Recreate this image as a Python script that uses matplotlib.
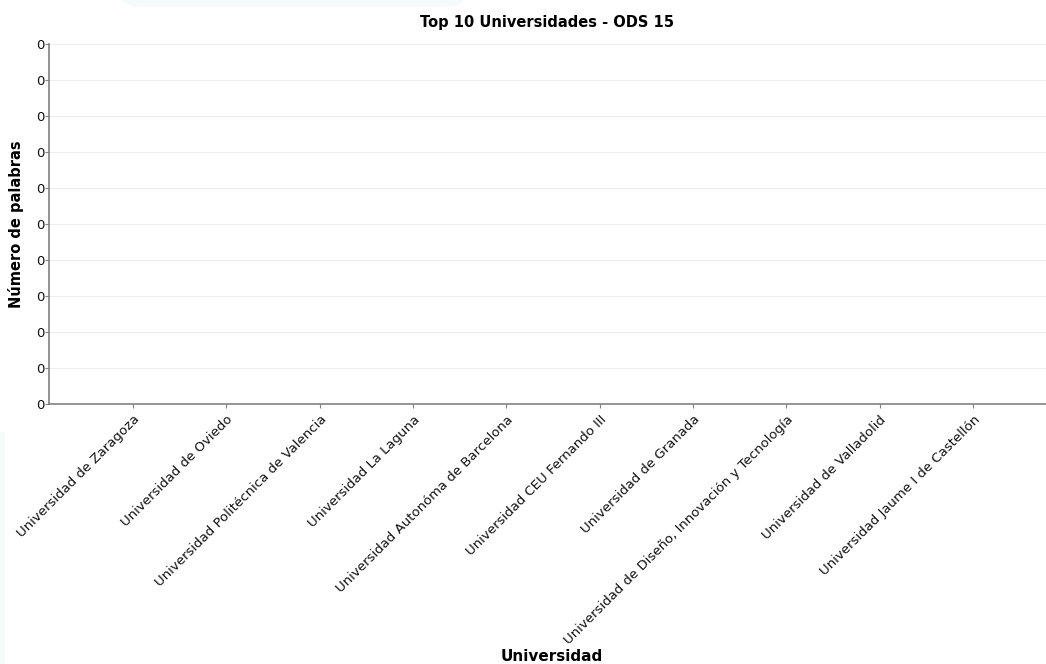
import numpy as np
import matplotlib.pyplot as plt
from matplotlib.patches import FancyBboxPatch
from matplotlib.ticker import FormatStrFormatter

# datos: top 10 universidades para ODS 15 (todas con 0 palabras)
universidades = [
    "Universidad de Zaragoza",
    "Universidad de Oviedo",
    "Universidad Politécnica de Valencia",
    "Universidad La Laguna",
    "Universidad Autonóma de Barcelona",
    "Universidad CEU Fernando III",
    "Universidad de Granada",
    "Universidad de Diseño, Innovación y Tecnología",
    "Universidad de Valladolid",
    "Universidad Jaume I de Castellón",
]
palabras = [0, 0, 0, 0, 0, 0, 0, 0, 0, 0]

fig = plt.figure(figsize=(10.46, 6.64), dpi=100)

# marca de agua muy tenue al fondo
fig.patches.append(FancyBboxPatch((0.115, 0.99), 0.33, 0.05, boxstyle="round,pad=0,rounding_size=0.02",
                                  transform=fig.transFigure, facecolor="#f5fafb", edgecolor="none", zorder=-5))
fig.patches.append(FancyBboxPatch((0.0, 0.0), 0.005, 0.35, transform=fig.transFigure,
                                  boxstyle="square,pad=0", facecolor="#f6fbfc", edgecolor="none", zorder=-5))

ax = fig.add_axes([0.0468, 0.3916, 0.9532, 0.5421])
ax.bar(universidades, palabras, color="#4c72b0")

ax.set_xlim(-0.9, 9.78)
ax.set_ylim(0, 0.1)
ax.set_yticks(np.linspace(0, 0.1, 11))
ax.yaxis.set_major_formatter(FormatStrFormatter("%d"))
ax.grid(axis="y", color="#eeeeee", linewidth=0.8)
ax.set_axisbelow(True)

for s in ["top", "right"]:
    ax.spines[s].set_visible(False)
for s in ["left", "bottom"]:
    ax.spines[s].set_color("#808080")
    ax.spines[s].set_linewidth(1.2)
ax.tick_params(colors="#808080", labelcolor="#111111", labelsize=9.5, length=3)
ax.tick_params(axis="y", pad=0.5)

plt.setp(ax.get_xticklabels(), rotation=45, ha="right", rotation_mode="anchor")

ax.set_title("Top 10 Universidades - ODS 15", fontsize=10.5, fontweight="bold", pad=12)
ax.set_xlabel("Universidad", fontsize=11, fontweight="bold")
ax.xaxis.set_label_coords(0.504, -0.68)
ax.set_ylabel("Número de palabras", fontsize=10.5, fontweight="bold")
ax.yaxis.set_label_coords(-0.025, 0.5)

fig.savefig("out.png", dpi=100)
